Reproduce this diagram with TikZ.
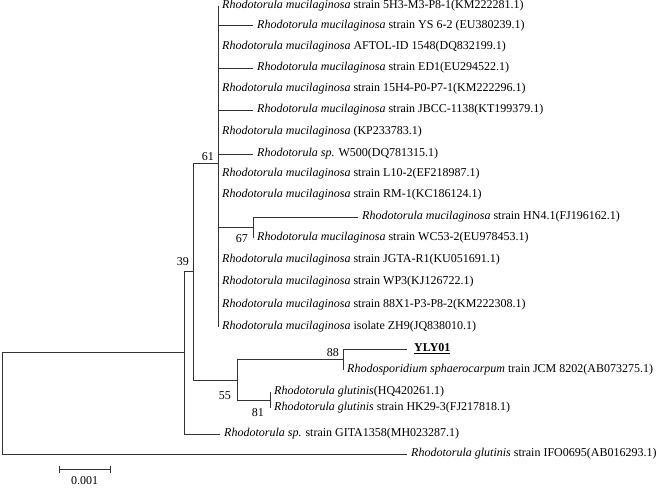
\documentclass[tikz,border=0pt]{standalone}
\usepackage{fontspec}
\setmainfont{Liberation Serif}
\newcommand{\rmuc}{\textit{Rhodotorula mucilaginosa}}
\tikzset{
  branch/.style={draw=black!80, line width=1pt},
  leaf/.style={anchor=west, inner xsep=4pt, inner ysep=0pt, font=\fontsize{12}{14}\selectfont},
  boot/.style={inner sep=0pt, font=\fontsize{12}{14}\selectfont},
}
\begin{document}
\begin{tikzpicture}[x=1pt,y=-1pt]
\useasboundingbox (0,0) rectangle (658,487);
% internal nodes
\coordinate (root) at (2,403);
\coordinate (n39) at (184,352.5);
\coordinate (nA) at (193,271);
\coordinate (c61) at (218,163);
\coordinate (n67) at (253,227);
\coordinate (n55) at (237,380);
\coordinate (n88) at (343,359);
\coordinate (n81) at (270,400);
% mucilaginosa clade
\foreach \i/\x/\y/\txt in {
    1/218/6/{\rmuc{} strain 5H3-M3-P8-1(KM222281.1)},
    2/253/26/{\rmuc{} strain YS 6-2 (EU380239.1)},
    3/218/47/{\rmuc{} AFTOL-ID 1548(DQ832199.1)},
    4/253/68/{\rmuc{} strain ED1(EU294522.1)},
    5/218/89/{\rmuc{} strain 15H4-P0-P7-1(KM222296.1)},
    6/253/110/{\rmuc{} strain JBCC-1138(KT199379.1)},
    7/218/132/{\rmuc{} (KP233783.1)},
    8/253/154/{\textit{Rhodotorula sp.} W500(DQ781315.1)},
    9/218/174/{\rmuc{} strain L10-2(EF218987.1)},
    10/218/195/{\rmuc{} strain RM-1(KC186124.1)},
    13/218/260/{\rmuc{} strain JGTA-R1(KU051691.1)},
    14/218/282/{\rmuc{} strain WP3(KJ126722.1)},
    15/218/305/{\rmuc{} strain 88X1-P3-P8-2(KM222308.1)},
    16/218/327/{\rmuc{} isolate ZH9(JQ838010.1)}}
{
    \node[leaf] (l\i) at (\x,\y) {\txt};
    \draw[branch] (c61) |- (l\i.west);
}
\node[leaf] (l11) at (358,217) {\rmuc{} strain HN4.1(FJ196162.1)};
\node[leaf] (l12) at (253,238) {\rmuc{} strain WC53-2(EU978453.1)};
% other leaves
\node[leaf, inner xsep=7pt] (l17) at (407,349) {\underline{\textbf{YLY01}}};
\node[leaf] (l18) at (343,370) {\textit{Rhodosporidium sphaerocarpum} train JCM 8202(AB073275.1)};
\node[leaf] (l19) at (270,392) {\textit{Rhodotorula glutinis}(HQ420261.1)};
\node[leaf] (l20) at (270,408) {\textit{Rhodotorula glutinis} strain HK29-3(FJ217818.1)};
\node[leaf] (l21) at (220,434) {\textit{Rhodotorula sp.} strain GITA1358(MH023287.1)};
\node[leaf] (l22) at (407,454) {\textit{Rhodotorula glutinis} strain IFO0695(AB016293.1)};
% branches
\draw[branch] (root) |- (n39);
\draw[branch] (root) |- (l22.west);
\draw[branch] (n39) |- (nA);
\draw[branch] (n39) |- (l21.west);
\draw[branch] (nA) |- (c61);
\draw[branch] (nA) |- (n55);
\draw[branch] (c61) |- (n67);
\draw[branch] (n67) |- (l11.west);
\draw[branch] (n67) |- (l12.west);
\draw[branch] (n55) |- (n88);
\draw[branch] (n55) |- (n81);
\draw[branch] (n88) |- (l17.west);
\draw[branch] (n88) |- (l18.west);
\draw[branch] (n81) |- (l19.west);
\draw[branch] (n81) |- (l20.west);
% bootstrap values
\node[boot, anchor=south east] (b61) at (214,161) {61};
\node[boot, anchor=south east] (b39) at (189,266) {39};
\node[boot, anchor=north east] (b67) at (248,234) {67};
\node[boot, anchor=north east] (b55) at (231,391) {55};
\node[boot, anchor=south east] (b88) at (339,357) {88};
\node[boot, anchor=north east] (b81) at (264,408) {81};
% scale bar
\coordinate (s0) at (59,469);
\coordinate (s1) at (110,469);
\draw[branch] (s0) -- (s1);
\draw[branch] (s0) ++(0,-3.5) -- ++(0,7);
\draw[branch] (s1) ++(0,-3.5) -- ++(0,7);
\node[boot] (slab) at (84.5,481) {0.001};
\end{tikzpicture}
\end{document}
